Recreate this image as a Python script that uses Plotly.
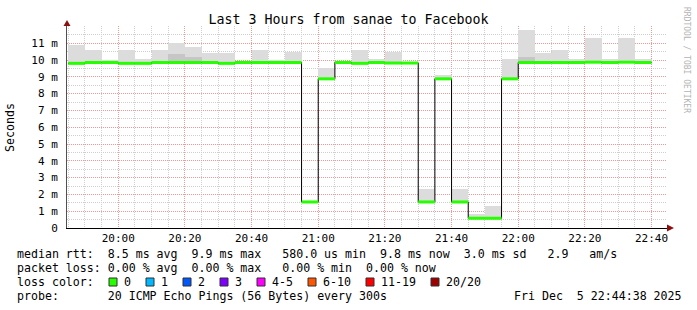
import plotly.graph_objects as go
from datetime import datetime, timedelta

# ---------------- data ----------------
day = "2025-12-05"
window_start = "19:44:38"
window_end = "22:44:38"
step_seconds = 300

bucket_start = [
    "19:45", "19:50", "19:55", "20:00", "20:05", "20:10", "20:15", "20:20",
    "20:25", "20:30", "20:35", "20:40", "20:45", "20:50", "20:55", "21:00",
    "21:05", "21:10", "21:15", "21:20", "21:25", "21:30", "21:35", "21:40",
    "21:45", "21:50", "21:55", "22:00", "22:05", "22:10", "22:15", "22:20",
    "22:25", "22:30", "22:35",
]
# median rtt per step (ms)
median_ms = [
    9.80, 9.85, 9.85, 9.80, 9.80, 9.85, 9.85, 9.85,
    9.85, 9.80, 9.85, 9.85, 9.85, 9.85, 1.55, 8.88,
    9.85, 9.80, 9.85, 9.82, 9.82, 1.55, 8.88, 1.55,
    0.58, 0.58, 8.88, 9.85, 9.85, 9.85, 9.85, 9.87,
    9.85, 9.87, 9.85,
]
# top of the smoke (slowest ping) per step (ms)
smoke_top_ms = [
    10.89, 10.60, 10.02, 10.62, 10.08, 10.62, 11.03, 10.80,
    10.42, 10.42, 9.90, 10.60, 10.02, 10.50, 1.60, 9.54,
    9.90, 10.60, 10.08, 10.50, 9.90, 2.32, 9.09, 2.32,
    0.83, 1.31, 10.04, 11.80, 10.43, 10.60, 10.08, 11.33,
    10.08, 11.33, 10.08,
]
# denser inner smoke band top (ms), None where not visible
smoke_inner_ms = [
    None, None, None, None, None, None, 10.35, 10.20,
    None, None, None, None, None, None, None, None,
    None, None, None, None, None, None, None, None,
    None, None, None, 10.20, None, None, None, None,
    None, None, None,
]

y_ticks = [0, 1, 2, 3, 4, 5, 6, 7, 8, 9, 10, 11]
y_tick_labels = ["0", "1 m", "2 m", "3 m", "4 m", "5 m", "6 m", "7 m",
                 "8 m", "9 m", "10 m", "11 m"]

title_text = "Last 3 Hours from sanae to Facebook"
stats_line = ("median rtt:  8.5 ms avg  9.9 ms max   580.0 us min  "
              "9.8 ms now  3.0 ms sd   2.9   am/s")
loss_line = "packet loss: 0.00 % avg  0.00 % max   0.00 % min  0.00 % now"
probe_line = "probe:       20 ICMP Echo Pings (56 Bytes) every 300s"
date_text = "Fri Dec  5 22:44:38 2025"
loss_labels = ["0", "1", "2", "3", "4-5", "6-10", "11-19", "20/20"]
loss_colors = ["#26ff00", "#00b8ff", "#0059ff", "#7e00ff", "#ff00ff",
               "#ff5500", "#ff0000", "#a10000"]

# ---------------- layout geometry ----------------
W, H = 697, 310
L, R, T, B = 67, 30, 26, 82
PW, PH = W - L - R, H - T - B
MONO = "DejaVu Sans Mono"


def px_x(p):
    return (p - L) / PW


def px_y(p):
    return (H - B - p) / PH


def nb(s):
    return s.replace(" ", "\u00a0")


t0 = [datetime.fromisoformat(f"{day} {t}:00") for t in bucket_start]
step = timedelta(seconds=step_seconds)
t_end = t0[-1] + step

fig = go.Figure()

# smoke (outer)
base = [m - 0.05 for m in median_ms]
fig.add_trace(go.Bar(
    x=t0, y=[top - b for top, b in zip(smoke_top_ms, base)], base=base,
    width=step_seconds * 1000, offset=0,
    marker=dict(color="#dcdcdc", line=dict(width=0)),
    hoverinfo="skip", showlegend=False))
# smoke (inner)
fig.add_trace(go.Bar(
    x=t0,
    y=[(v - b) if v is not None else None for v, b in zip(smoke_inner_ms, base)],
    base=base, width=step_seconds * 1000, offset=0,
    marker=dict(color="#c6c6c6", line=dict(width=0)),
    hoverinfo="skip", showlegend=False))

# black median step line
fig.add_trace(go.Scatter(
    x=t0 + [t_end], y=median_ms + [median_ms[-1]], mode="lines",
    line=dict(color="#000000", width=1, shape="hv"),
    hoverinfo="skip", showlegend=False))

# green loss-colored median segments
gx, gy = [], []
for t, m in zip(t0, median_ms):
    gx += [t, t + step, None]
    gy += [m, m, None]
fig.add_trace(go.Scatter(
    x=gx, y=gy, mode="lines", line=dict(color=loss_colors[0], width=3),
    hoverinfo="skip", showlegend=False))

grid_dash = "1px,1px"
fig.update_xaxes(
    type="date",
    range=[f"{day} {window_start}", f"{day} {window_end}"],
    tickmode="linear", tick0=f"{day} 20:00:00", dtick=20 * 60 * 1000,
    tickformat="%H:%M",
    showgrid=True, gridcolor="#ec9a9a", griddash=grid_dash, gridwidth=1,
    minor=dict(tickmode="linear", tick0=f"{day} 20:00:00", dtick=5 * 60 * 1000,
               showgrid=True, gridcolor="#cfcfcf", griddash=grid_dash,
               gridwidth=1),
    showline=True, linecolor="#000000", linewidth=1,
    zeroline=False, ticks="",
    tickfont=dict(family=MONO, size=11, color="#000000"),
)
fig.update_yaxes(
    range=[0, PH / 16.8],
    tickmode="array", tickvals=y_ticks, ticktext=y_tick_labels,
    showgrid=True, gridcolor="#ec9a9a", griddash=grid_dash, gridwidth=1,
    minor=dict(tickmode="array", tickvals=[v + 0.5 for v in y_ticks],
               showgrid=True, gridcolor="#cfcfcf", griddash=grid_dash,
               gridwidth=1),
    showline=True, linecolor="#505050", linewidth=1,
    zeroline=False, ticks="", ticklabelstandoff=6,
    tickfont=dict(family=MONO, size=11, color="#000000"),
)

shapes = [
    # x axis arrow
    dict(type="path", xref="paper", yref="paper", xsizemode="pixel",
         ysizemode="pixel", xanchor=1, yanchor=0,
         path="M 0 -3.5 L 7 0 L 0 3.5 Z",
         fillcolor="#8b1010", line=dict(width=0)),
    # y axis arrow
    dict(type="path", xref="paper", yref="paper", xsizemode="pixel",
         ysizemode="pixel", xanchor=0, yanchor=1,
         path="M -3.5 0 L 3.5 0 L 0 6 Z",
         fillcolor="#8b1010", line=dict(width=0)),
]

annotations = []


def txt(s, x, y, size=11.6, color="#000000", anchor="left", angle=0):
    annotations.append(dict(
        text=nb(s), xref="paper", yref="paper", x=px_x(x), y=px_y(y),
        xanchor=anchor, yanchor="middle", showarrow=False, textangle=angle,
        font=dict(family=MONO, size=size, color=color), borderpad=0))


txt(stats_line, 16, 254)
txt(loss_line, 16, 268)
txt("loss color:", 16, 282)
txt(probe_line, 16, 296)
txt(date_text, 513, 296)
txt("Seconds", 10, 128, anchor="center", angle=-90)
txt("RRDTOOL / TOBI OETIKER", 687, 60, size=8, color="#b4b4b4",
    anchor="center", angle=90)

box_x = [109, 146, 183, 220, 257, 308, 366, 431]
for bx, lab, col in zip(box_x, loss_labels, loss_colors):
    shapes.append(dict(type="rect", xref="paper", yref="paper",
                       x0=px_x(bx), x1=px_x(bx + 8), y0=px_y(286), y1=px_y(278),
                       fillcolor=col, line=dict(color="#303030", width=1)))
    txt(lab, bx + 14, 282)

fig.update_layout(
    width=W, height=H,
    margin=dict(l=L, r=R, t=T, b=B, pad=0),
    paper_bgcolor="#ffffff", plot_bgcolor="#ffffff",
    barmode="overlay", bargap=0,
    showlegend=False,
    title=dict(text=title_text, x=0.5, xref="container", xanchor="center",
               y=1 - 19 / H, yref="container", yanchor="middle",
               font=dict(family=MONO, size=13.3, color="#000000")),
    shapes=shapes, annotations=annotations,
)

fig.write_html("out.html")
